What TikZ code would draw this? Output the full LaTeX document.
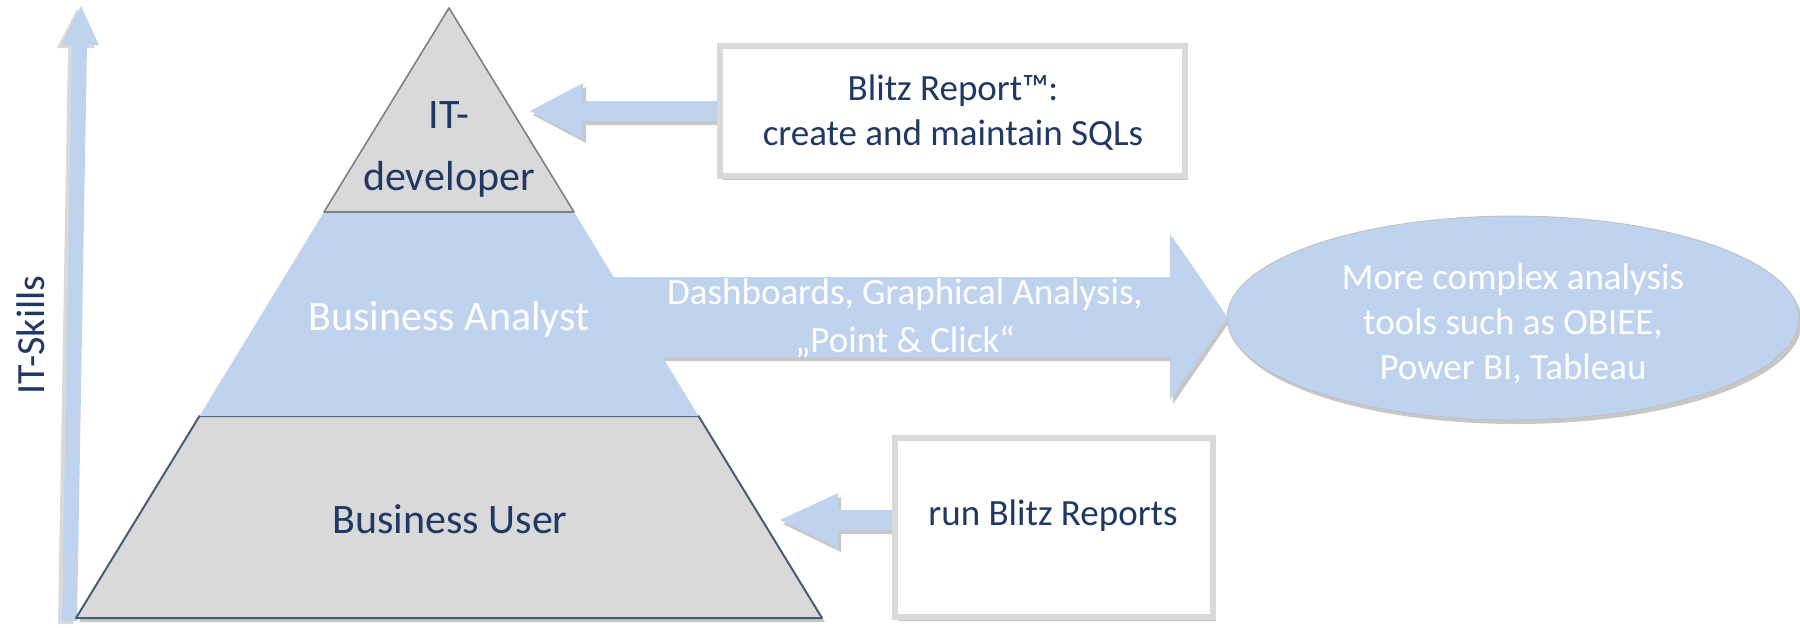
\documentclass[tikz,border=0pt]{standalone}
\usepackage{fontspec}
\setmainfont{Carlito}
\usetikzlibrary{shapes.geometric,shadows}
\definecolor{lblue}{HTML}{C0D3EE}
\definecolor{lgray}{HTML}{D9D9D9}
\definecolor{navy}{HTML}{1F3864}
\definecolor{boxgray}{HTML}{D9D9D9}
\definecolor{edgegray}{HTML}{808080}
\definecolor{edgenavy}{HTML}{4A5B78}
\begin{document}
\begin{tikzpicture}[x=1pt,y=-1pt,
  shd/.style={drop shadow={shadow xshift=3pt,shadow yshift=-4pt,opacity=0.22,fill=black}},
  blockarrow/.style={fill=lblue,draw=none,shd},
  infobox/.style={draw=boxgray,line width=6pt,fill=white,shd},
  darklabel/.style={text=navy,align=center,inner sep=0pt},
  lightlabel/.style={text=white,align=center,inner sep=0pt}]
\useasboundingbox (0,0) rectangle (1800,627);

% IT-Skills axis arrow
\fill[lblue,drop shadow={shadow xshift=-4pt,shadow yshift=-3pt,opacity=0.15,fill=black}]
  (62,621) -- (77,621) -- (87,45) -- (99,45) -- (81,6) -- (61,45) -- (72,45) -- cycle;
\node[darklabel,rotate=90,font=\fontsize{40}{48}\selectfont] (skills) at (31,335) {IT-Skills};

% big right arrow (behind pyramid)
\fill[blockarrow] (600,277) -- (1170,277) -- (1170,234) -- (1227,317) -- (1170,400) -- (1170,357) -- (600,357) -- cycle;

% pyramid
\coordinate (apex) at (449,8);
\coordinate (l1) at (324,212);
\coordinate (r1) at (574,212);
\coordinate (l2) at (199.5,416);
\coordinate (r2) at (698.5,416);
\coordinate (l3) at (76,618);
\coordinate (r3) at (822,618);
\fill[lgray,shd] (l2) -- (r2) -- (r3) -- (l3) -- cycle;
\draw[edgenavy,line width=2pt,line join=round] (l2) -- (r2) -- (r3) -- (l3) -- cycle;
\fill[lblue] (l1) -- (r1) -- (r2) -- (l2) -- cycle;
\fill[lgray] (apex) -- (r1) -- (l1) -- cycle;
\draw[edgegray,line width=1.6pt,line join=round] (apex) -- (r1) -- (l1) -- cycle;

\node[darklabel,font=\fontsize{42}{62}\selectfont] (dev) at (449,149) {IT-\\developer};
\node[lightlabel,font=\fontsize{42}{50}\selectfont] (analyst) at (449,319) {Business Analyst};
\node[darklabel,font=\fontsize{42}{50}\selectfont] (user) at (450,519) {Business User};

% top box and arrow
\fill[blockarrow] (530,111) -- (583,83) -- (583,101) -- (720,101) -- (720,121) -- (583,121) -- (583,139) -- cycle;
\draw[infobox] (720,46) rectangle (1185,176);
\node[darklabel,font=\fontsize{37}{45}\selectfont] (sqlbox) at (953,113) {Blitz Report™:\\create and maintain SQLs};

% arrow label
\node[lightlabel,font=\fontsize{37}{48}\selectfont] (dash) at (905,318) {Dashboards, Graphical Analysis,\\„Point \& Click“};

% ellipse
\node[ellipse,fill=lblue,draw=black!25,line width=0.8pt,shd,minimum width=572pt,minimum height=204pt,inner sep=0pt] (tools) at (1513,318) {};
\node[lightlabel,font=\fontsize{37}{45}\selectfont] (toolstext) at (1513,324) {More complex analysis\\tools such as OBIEE,\\Power BI, Tableau};

% bottom box and arrow
\fill[blockarrow] (780,520) -- (838,493) -- (838,510) -- (895,510) -- (895,530) -- (838,530) -- (838,548) -- cycle;
\draw[infobox] (895,438) rectangle (1213,617);
\node[darklabel,font=\fontsize{37}{45}\selectfont] (run) at (1053,516) {run Blitz Reports};
\end{tikzpicture}
\end{document}
